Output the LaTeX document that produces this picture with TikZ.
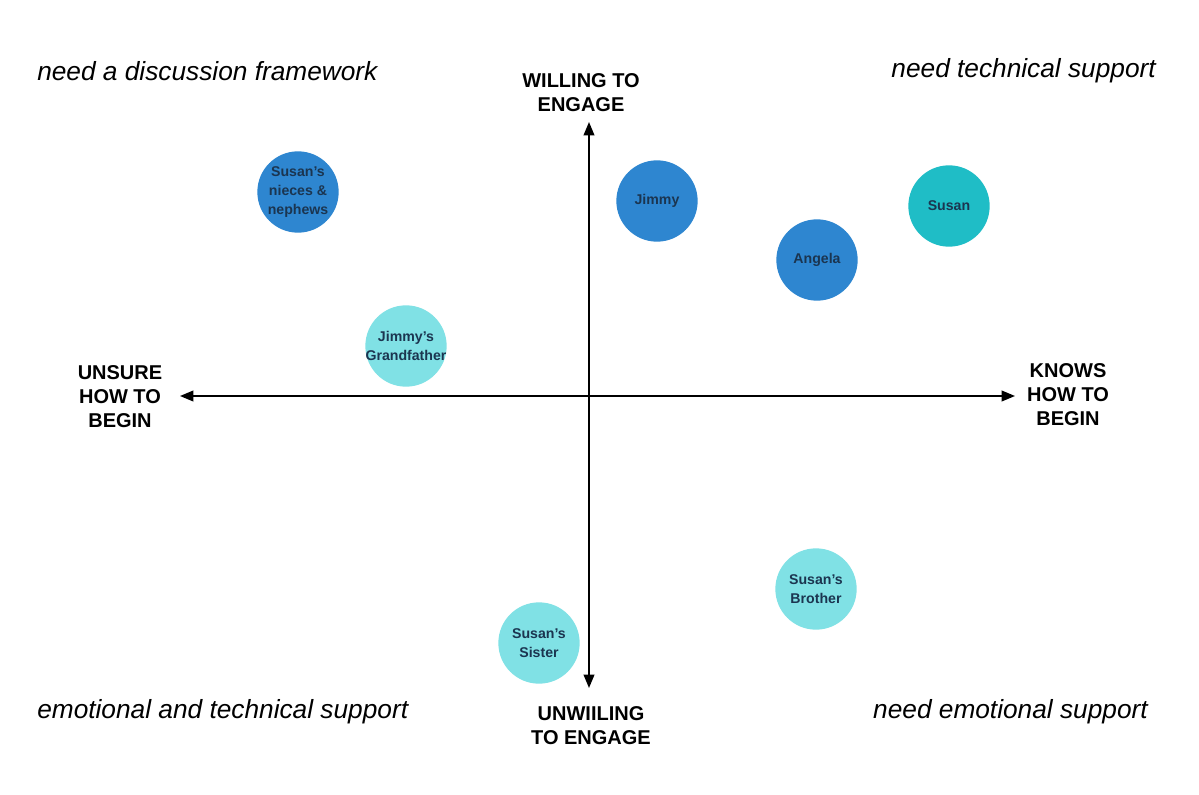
\documentclass[tikz,border=0pt]{standalone}
\usepackage{fontspec}
\setmainfont{Liberation Sans}
\usetikzlibrary{arrows.meta}
\definecolor{dblue}{HTML}{2E86D0}
\definecolor{teal}{HTML}{1FBDC6}
\definecolor{lcyan}{HTML}{80E1E5}
\definecolor{navy}{HTML}{1B3550}
\tikzset{
  person/.style={circle, minimum size=61pt, inner sep=-6pt, align=center, text=navy,
    font=\fontsize{10.6}{14}\selectfont\bfseries},
  axis/.style={line width=1.3pt, -{Triangle[length=10pt,width=8pt]}},
  axlabel/.style={align=center, font=\fontsize{15}{18}\selectfont\bfseries},
  corner/.style={font=\fontsize{19.7}{22}\selectfont\itshape, inner sep=0pt}
}
\begin{document}
\begin{tikzpicture}[x=0.75pt,y=-0.75pt]
\useasboundingbox[fill=white] (0,0) rectangle (1199,795);
% axes
\coordinate (L) at (180,396);
\coordinate (R) at (1015,396);
\coordinate (T) at (589,122);
\coordinate (B) at (589,688);
\coordinate (O) at (589,396);
\draw[axis] (O) -- (L);
\draw[axis] (O) -- (R);
\draw[axis] (O) -- (T);
\draw[axis] (O) -- (B);
% axis labels
\node[axlabel] (willing) at (581,93) {WILLING TO\\ENGAGE};
\node[axlabel] (unwilling) at (591,726) {UNWIILING\\TO ENGAGE};
\node[axlabel] (unsure) at (120,397) {UNSURE\\HOW TO\\BEGIN};
\node[axlabel] (knows) at (1068,395) {KNOWS\\HOW TO\\BEGIN};
% corner texts
\node[corner, anchor=west] (tl) at (37,71) {need a discussion framework};
\node[corner, anchor=east] (tr) at (1156,71) {need technical support};
\node[corner, anchor=west] (bl) at (37,712) {emotional and technical support};
\node[corner, anchor=east] (br) at (1148,712) {need emotional support};
% people
\node[person, fill=dblue] (nieces) at (298,192) {Susan's\\nieces \&\\nephews};
\node[person, fill=dblue] (jimmy) at (657,201) {Jimmy};
\node[person, fill=dblue] (angela) at (817,260) {Angela};
\node[person, fill=teal] (susan) at (949,206) {Susan};
\node[person, fill=lcyan] (grandfather) at (406,346) {Jimmy's\\Grandfather};
\node[person, fill=lcyan] (brother) at (816,589) {Susan's\\Brother};
\node[person, fill=lcyan] (sister) at (539,643) {Susan's\\Sister};
\end{tikzpicture}
\end{document}
